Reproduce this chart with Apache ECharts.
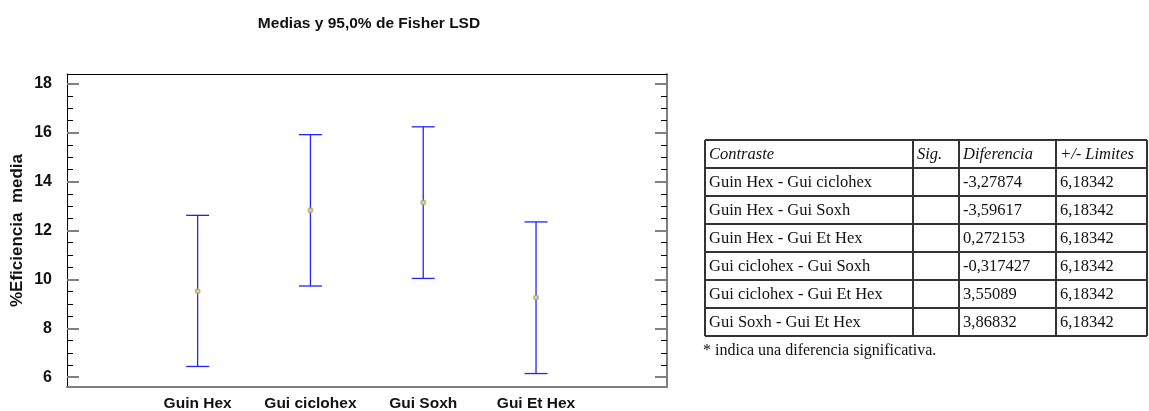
<!DOCTYPE html>
<html>
<head>
<meta charset="utf-8">
<title>Medias y 95,0% de Fisher LSD</title>
<script src="https://cdn.jsdelivr.net/npm/echarts@6/dist/echarts.min.js"></script>
<style>
  html, body { margin: 0; padding: 0; background: #fff; }
  #chart { width: 1149px; height: 411px; }
</style>
</head>
<body>
<div id="chart"></div>
<script>
// datos
var categorias = ['Guin Hex', 'Gui ciclohex', 'Gui Soxh', 'Gui Et Hex'];
var medias = [9.52, 12.83, 13.14, 9.26];
var inferior = [6.44, 9.73, 10.04, 6.15];
var superior = [12.62, 15.92, 16.24, 12.35];
var ticksY = [6, 8, 10, 12, 14, 16, 18];
var ticksMenores = [6.5, 7, 7.5, 8.5, 9, 9.5, 10.5, 11, 11.5, 12.5, 13, 13.5, 14.5, 15, 15.5, 16.5, 17, 17.5];

// tabla de contrastes
var encabezado = ['Contraste', 'Sig.', 'Diferencia', '+/- Limites'];
var contrastes = ['Guin Hex - Gui ciclohex', 'Guin Hex - Gui Soxh', 'Guin Hex - Gui Et Hex',
  'Gui ciclohex - Gui Soxh', 'Gui ciclohex - Gui Et Hex', 'Gui Soxh - Gui Et Hex'];
var sig = ['', '', '', '', '', ''];
var diferencias = ['-3,27874', '-3,59617', '0,272153', '-0,317427', '3,55089', '3,86832'];
var limites = ['6,18342', '6,18342', '6,18342', '6,18342', '6,18342', '6,18342'];
var nota = '* indica una diferencia significativa.';

var chart = echarts.init(document.getElementById('chart'));
var sans = '"Liberation Sans", Arial, sans-serif';
var serif = '"Liberation Serif", "Times New Roman", serif';

// tabla con elementos graficos
var colX = [705, 913, 959, 1056, 1147];
var filaY0 = 140, altoFila = 28;
var filas = [encabezado];
for (var i = 0; i < contrastes.length; i++) {
  filas.push([contrastes[i], sig[i], diferencias[i], limites[i]]);
}
var graficos = [];
for (var r = 0; r <= filas.length; r++) {
  graficos.push({
    type: 'line',
    shape: { x1: colX[0], y1: filaY0 + r * altoFila, x2: colX[colX.length - 1], y2: filaY0 + r * altoFila },
    style: { stroke: '#333', lineWidth: 2 }
  });
}
for (var c = 0; c < colX.length; c++) {
  graficos.push({
    type: 'line',
    shape: { x1: colX[c], y1: filaY0, x2: colX[c], y2: filaY0 + filas.length * altoFila },
    style: { stroke: '#333', lineWidth: 2 }
  });
}
filas.forEach(function (fila, r) {
  fila.forEach(function (txt, c) {
    if (!txt) return;
    graficos.push({
      type: 'text',
      x: colX[c] + 4,
      y: filaY0 + r * altoFila + altoFila / 2 + 1,
      style: {
        text: txt,
        fill: '#111',
        font: (r === 0 ? 'italic ' : '') + '16.5px ' + serif,
        textVerticalAlign: 'middle'
      }
    });
  });
});
graficos.push({
  type: 'text',
  x: 703,
  y: filaY0 + filas.length * altoFila + 15,
  style: { text: nota, fill: '#111', font: '16px ' + serif, textVerticalAlign: 'middle' }
});

var caja = { left: 67, top: 74, right: 482, bottom: 24, outerBoundsMode: 'none' };
var rangoX = { min: -0.158, max: 5.161 };

var ejeYBase = {
  type: 'value',
  min: 5.6,
  max: 18.4,
  offset: 0,
  splitLine: { show: false }
};

var option = {
  animation: false,
  title: {
    text: 'Medias y 95,0% de Fisher LSD',
    left: 364,
    top: 11,
    textAlign: 'center',
    textStyle: { fontFamily: sans, fontSize: 15.5, fontWeight: 'bold', color: '#111' }
  },
  // grid 0: ejes principales y datos; grid 1: solo marcas menores
  grid: [Object.assign({}, caja), Object.assign({}, caja)],
  xAxis: [{
    type: 'value',
    gridIndex: 0,
    min: rangoX.min,
    max: rangoX.max,
    position: 'bottom',
    splitLine: { show: false },
    axisLine: { show: true, onZero: false, lineStyle: { color: '#7f7f7f', width: 2 } },
    axisTick: { show: false },
    axisLabel: {
      customValues: [1, 2, 3, 4],
      margin: 9,
      fontFamily: sans,
      fontSize: 15.5,
      fontWeight: 'bold',
      color: '#111',
      formatter: function (v) { return categorias[Math.round(v) - 1] || ''; }
    }
  }, {
    type: 'value',
    gridIndex: 1,
    min: rangoX.min,
    max: rangoX.max,
    position: 'top',
    splitLine: { show: false },
    axisLine: { show: true, onZero: false, lineStyle: { color: '#000', width: 1 } },
    axisTick: { show: false },
    axisLabel: { show: false }
  }],
  yAxis: [
    Object.assign({}, ejeYBase, {
      gridIndex: 0,
      position: 'left',
      name: '%Eficiencia  media',
      nameLocation: 'middle',
      nameGap: 41,
      nameMoveOverlap: false,
      nameTextStyle: { fontFamily: sans, fontSize: 17, fontWeight: 'bold', color: '#111' },
      axisLine: { show: true, onZero: false, lineStyle: { color: '#000', width: 1 } },
      axisTick: { show: true, inside: true, length: 12, customValues: ticksY, lineStyle: { color: '#808080', width: 2 } },
      axisLabel: { customValues: ticksY, margin: 15, fontFamily: sans, fontSize: 16, fontWeight: 'bold', color: '#111' }
    }),
    Object.assign({}, ejeYBase, {
      gridIndex: 0,
      position: 'right',
      axisLine: { show: true, onZero: false, lineStyle: { color: '#7f7f7f', width: 2 } },
      axisTick: { show: true, inside: true, length: 12, customValues: ticksY, lineStyle: { color: '#808080', width: 2 } },
      axisLabel: { show: false }
    }),
    Object.assign({}, ejeYBase, {
      gridIndex: 1,
      position: 'left',
      axisLine: { show: false, onZero: false },
      axisTick: { show: true, inside: true, length: 6, customValues: ticksMenores, lineStyle: { color: '#000', width: 1 } },
      axisLabel: { show: false }
    }),
    Object.assign({}, ejeYBase, {
      gridIndex: 1,
      position: 'right',
      axisLine: { show: false, onZero: false },
      axisTick: { show: true, inside: true, length: 6, customValues: ticksMenores, lineStyle: { color: '#000', width: 1 } },
      axisLabel: { show: false }
    })
  ],
  series: [{
    name: 'LSD',
    type: 'custom',
    xAxisIndex: 0,
    yAxisIndex: 0,
    data: categorias.map(function (_, i) { return [i + 1, inferior[i], superior[i]]; }),
    renderItem: function (params, api) {
      var x = api.value(0);
      var abajo = api.coord([x, api.value(1)]);
      var arriba = api.coord([x, api.value(2)]);
      var medio = 11.5;
      var estilo = { stroke: '#2323ff', lineWidth: 1.3 };
      return {
        type: 'group',
        children: [
          { type: 'line', shape: { x1: arriba[0], y1: arriba[1], x2: abajo[0], y2: abajo[1] }, style: estilo },
          { type: 'line', shape: { x1: arriba[0] - medio, y1: arriba[1], x2: arriba[0] + medio, y2: arriba[1] }, style: estilo },
          { type: 'line', shape: { x1: abajo[0] - medio, y1: abajo[1], x2: abajo[0] + medio, y2: abajo[1] }, style: estilo }
        ]
      };
    }
  }, {
    name: 'Medias',
    type: 'scatter',
    xAxisIndex: 0,
    yAxisIndex: 0,
    symbol: 'emptyCircle',
    symbolSize: 4,
    itemStyle: { color: '#b3a85a', borderWidth: 1 },
    data: categorias.map(function (_, i) { return [i + 1, medias[i]]; }),
    z: 5
  }],
  graphic: graficos
};

chart.setOption(option);
window.addEventListener('resize', function () {
  chart.resize();
});
</script>
</body>
</html>
